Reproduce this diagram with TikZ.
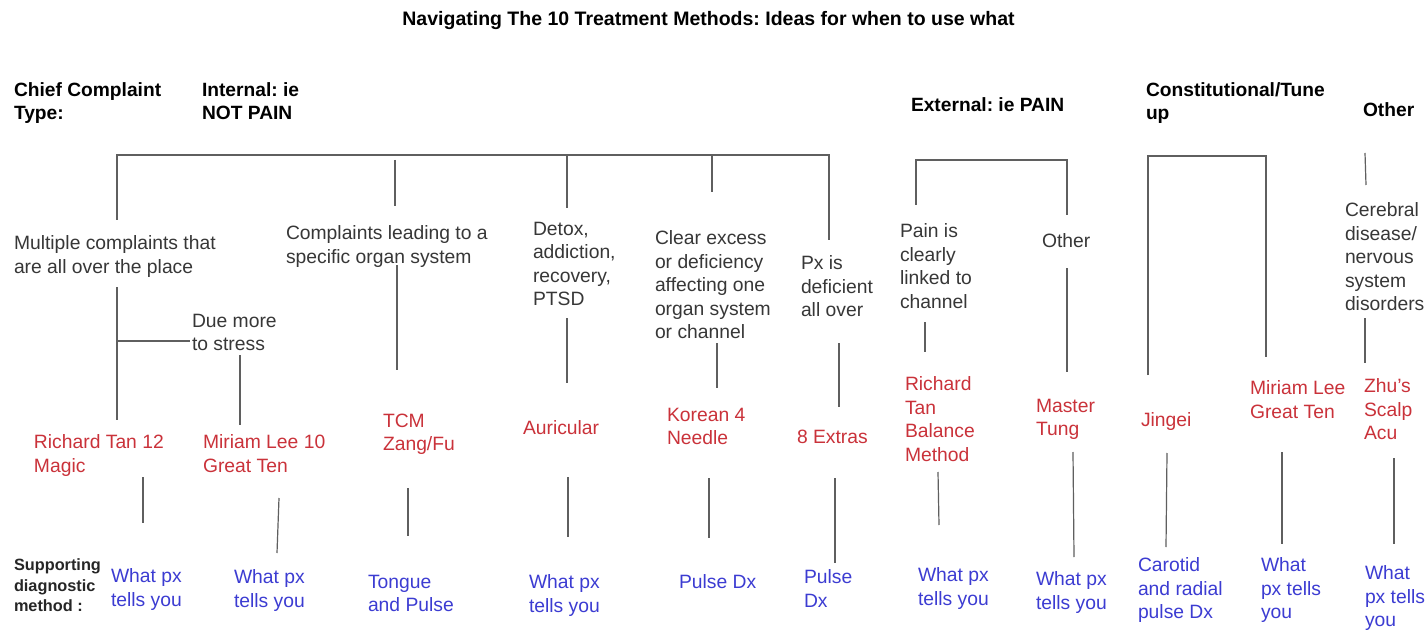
\documentclass[tikz,border=0pt]{standalone}
\usepackage{fontspec}
\setmainfont{Liberation Sans}
\frenchspacing
\definecolor{txtgray}{RGB}{55,55,55}
\definecolor{lngray}{RGB}{95,95,95}
\definecolor{redt}{RGB}{202,50,58}
\definecolor{bluet}{RGB}{60,60,210}
\tikzset{
  txt/.style={inner sep=0pt,outer sep=0pt,anchor=north west,align=left},
  base/.style={txt,font=\fontsize{19.3}{23.4}\selectfont},
  hdr/.style={txt,font=\fontsize{19.2}{23}\selectfont\bfseries,text=black},
  cond/.style={base,text=txtgray},
  meth/.style={base,text=redt},
  diag/.style={base,text=bluet},
  suplbl/.style={txt,font=\fontsize{16.3}{20.5}\selectfont\bfseries,text=black!85},
  conn/.style={draw=lngray,line width=1.2pt}
}
\begin{document}
\begin{tikzpicture}[x=1pt,y=-1pt]
\useasboundingbox (0,0) rectangle (1427,631);
\fill[white] (0,0) rectangle (1427,631);
% title and headers
\node[hdr,anchor=north,font=\fontsize{19.5}{23}\selectfont\bfseries] (title) at (708.5,11) {Navigating The 10 Treatment Methods: Ideas for when to use what};
\node[hdr] (cc) at (14,83) {Chief Complaint\\Type:};
\node[hdr] (internal) at (202,83) {Internal: ie\\NOT PAIN};
\node[hdr] (external) at (911,98) {External: ie PAIN};
\node[hdr] (constit) at (1146,83) {Constitutional/Tune\\up};
\node[hdr] (other) at (1363,103) {Other};
% conditions
\node[cond] (multi) at (14,236) {Multiple complaints that\\are all over the place};
\node[cond] (organ) at (286,226) {Complaints leading to a\\specific organ system};
\node[cond] (detox) at (533,222) {Detox,\\addiction,\\recovery,\\PTSD};
\node[cond] (clear) at (655,231) {Clear excess\\or deficiency\\affecting one\\organ system\\or channel};
\node[cond] (pxdef) at (801,256) {Px is\\deficient\\all over};
\node[cond] (pain) at (900,224) {Pain is\\clearly\\linked to\\channel};
\node[cond] (oth2) at (1042,234) {Other};
\node[cond] (cereb) at (1345,203) {Cerebral\\disease/\\nervous\\system\\disorders};
\node[cond] (stress) at (192,314) {Due more\\to stress};
% methods
\node[meth] (rtan) at (34,435) {Richard Tan 12\\Magic};
\node[meth] (mlee) at (203,435) {Miriam Lee 10\\Great Ten};
\node[meth] (tcm) at (383,414) {TCM\\Zang/Fu};
\node[meth] (auric) at (523,421) {Auricular};
\node[meth] (korean) at (667,408) {Korean 4\\Needle};
\node[meth] (extras) at (797,430) {8 Extras};
\node[meth] (rtbal) at (905,377) {Richard\\Tan\\Balance\\Method};
\node[meth] (tung) at (1036,399) {Master\\Tung};
\node[meth] (jingei) at (1141,413) {Jingei};
\node[meth] (mlee2) at (1250,381) {Miriam Lee\\Great Ten};
\node[meth] (zhu) at (1364,379) {Zhu’s\\Scalp\\Acu};
% diagnostics
\node[suplbl] (sup) at (14,559) {Supporting\\diagnostic\\method :};
\node[diag] (d1) at (111,569) {What px\\tells you};
\node[diag] (d2) at (234,570) {What px\\tells you};
\node[diag] (d3) at (368,575) {Tongue\\and Pulse};
\node[diag] (d4) at (529,575) {What px\\tells you};
\node[diag] (d5) at (679,575) {Pulse Dx};
\node[diag] (d6) at (804,570) {Pulse\\Dx};
\node[diag] (d7) at (918,568) {What px\\tells you};
\node[diag] (d8) at (1036,572) {What px\\tells you};
\node[diag] (d9) at (1138,558) {Carotid\\and radial\\pulse Dx};
\node[diag] (d10) at (1261,558) {What\\px tells\\you};
\node[diag] (d11) at (1365,566) {What\\px tells\\you};
% connector coordinates
\coordinate (iL) at (117,220); \coordinate (iLt) at (117,155);
\coordinate (iR) at (829,240); \coordinate (iRt) at (829,155);
\coordinate (iB1) at (395,160); \coordinate (iB1b) at (395,206);
\coordinate (iB2) at (567,155); \coordinate (iB2b) at (567,208);
\coordinate (iB3) at (712,155); \coordinate (iB3b) at (712,192);
\coordinate (mA) at (117,287); \coordinate (mB) at (117,420);
\coordinate (mS) at (117,341); \coordinate (mSe) at (190,341);
\coordinate (sA) at (240,355); \coordinate (sB) at (240,425);
\coordinate (oA) at (397,265); \coordinate (oB) at (397,370);
\coordinate (dA) at (567,318); \coordinate (dB) at (567,383);
\coordinate (cA) at (717,343); \coordinate (cB) at (717,388);
\coordinate (pA) at (839,343); \coordinate (pB) at (839,407);
\coordinate (eL) at (916,205); \coordinate (eLt) at (916,160);
\coordinate (eR) at (1067,215); \coordinate (eRt) at (1067,160);
\coordinate (paA) at (925,322); \coordinate (paB) at (925,352);
\coordinate (otA) at (1067,268); \coordinate (otB) at (1067,372);
\coordinate (kL) at (1148,375); \coordinate (kLt) at (1148,156);
\coordinate (kR) at (1266,357); \coordinate (kRt) at (1266,156);
\coordinate (xA) at (1365,153); \coordinate (xB) at (1366,185);
\coordinate (ceA) at (1365,318); \coordinate (ceB) at (1365,363);
\coordinate (l1a) at (143,477); \coordinate (l1b) at (143,523);
\coordinate (l2a) at (279,498); \coordinate (l2b) at (277,553);
\coordinate (l3a) at (408,488); \coordinate (l3b) at (408,536);
\coordinate (l4a) at (568,477); \coordinate (l4b) at (568,537);
\coordinate (l5a) at (709,478); \coordinate (l5b) at (709,538);
\coordinate (l6a) at (835,478); \coordinate (l6b) at (835,563);
\coordinate (l7a) at (938,472); \coordinate (l7b) at (939,525);
\coordinate (l8a) at (1073,452); \coordinate (l8b) at (1074,557);
\coordinate (l9a) at (1167,453); \coordinate (l9b) at (1166,547);
\coordinate (l10a) at (1282,452); \coordinate (l10b) at (1282,544);
\coordinate (l11a) at (1394,458); \coordinate (l11b) at (1394,544);
% connectors
\draw[conn] (iL) -- (iLt) -- (iRt) -- (iR);
\draw[conn] (iB1) -- (iB1b);
\draw[conn] (iB2) -- (iB2b);
\draw[conn] (iB3) -- (iB3b);
\draw[conn] (mA) -- (mB);
\draw[conn] (mS) -- (mSe);
\draw[conn] (sA) -- (sB);
\draw[conn] (oA) -- (oB);
\draw[conn] (dA) -- (dB);
\draw[conn] (cA) -- (cB);
\draw[conn] (pA) -- (pB);
\draw[conn] (eL) -- (eLt) -- (eRt) -- (eR);
\draw[conn] (paA) -- (paB);
\draw[conn] (otA) -- (otB);
\draw[conn] (kL) -- (kLt) -- (kRt) -- (kR);
\draw[conn] (xA) -- (xB);
\draw[conn] (ceA) -- (ceB);
\foreach \i in {1,...,11} {\draw[conn] (l\i a) -- (l\i b);}
\end{tikzpicture}
\end{document}
